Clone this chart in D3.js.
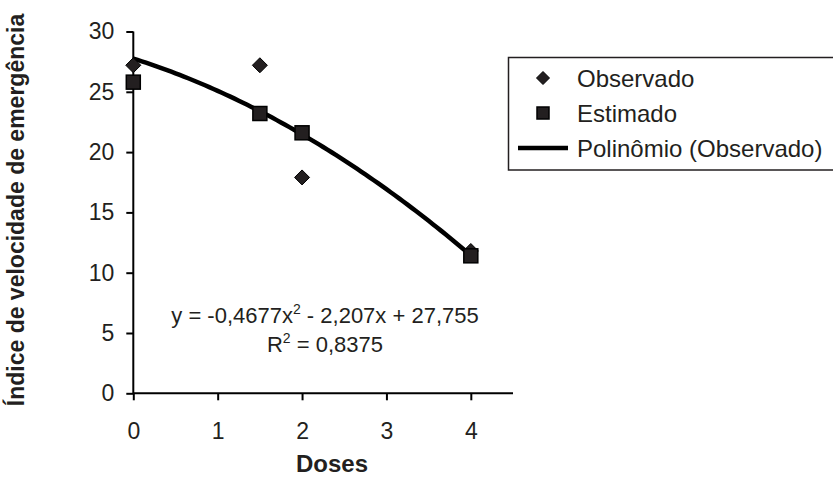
<!DOCTYPE html>
<html>
<head>
<meta charset="utf-8">
<script src="https://cdn.jsdelivr.net/npm/d3@7"></script>
<style>
  html, body { margin: 0; padding: 0; background: #fff; }
  svg { display: block; font-family: "Liberation Sans", Arial, sans-serif; }
  .tick text { font-size: 23px; }
</style>
</head>
<body>
<svg id="chart" width="833" height="478"></svg>
<script>
// ---- data ----
const doses = [0, 1.5, 2, 4];
const observado = [27.2, 27.2, 17.9, 11.8];
const estimado = [25.8, 23.2, 21.6, 11.4];
const polyCoef = [27.755, -2.207, -0.4677]; // c0 + c1 x + c2 x^2
const xTicks = [0, 1, 2, 3, 4];
const yTicks = [0, 5, 10, 15, 20, 25, 30];
const legendLabels = ["Observado", "Estimado", "Polinômio (Observado)"];
const xTitle = "Doses";
const yTitle = "Índice de velocidade de emergência";

const ink = "#231f20";
const svg = d3.select("#chart");

const x = d3.scaleLinear().domain([0, 4.5]).range([133.3, 513]);
const y = d3.scaleLinear().domain([0, 30]).range([393.3, 31.5]);

// axes
const xAxis = d3.axisBottom(x).tickValues(xTicks).tickSize(7).tickPadding(12).tickFormat(d3.format("d"));
const yAxis = d3.axisLeft(y).tickValues(yTicks).tickSize(7).tickPadding(12).tickFormat(d3.format("d"));

const gx = svg.append("g").attr("transform", `translate(0,${y(0)})`).call(xAxis);
const gy = svg.append("g").attr("transform", `translate(${x(0)},0)`).call(yAxis);
[gx, gy].forEach(g => {
  g.attr("font-size", 23).attr("font-family", "'Liberation Sans', Arial, sans-serif");
  g.select(".domain").attr("stroke", "#000").attr("stroke-width", 2);
  g.selectAll(".tick line").attr("stroke", "#000").attr("stroke-width", 2);
  g.selectAll(".tick text").attr("fill", ink).attr("font-size", 23);
});
gx.select(".domain").attr("d", `M${x(0)},0H${x(4.5)}`);
gy.select(".domain").attr("d", `M0,${y(30)}V${y(0)}`);
gx.selectAll(".tick text").attr("dy", "0.71em").attr("y", 29);

// axis titles
svg.append("text").attr("x", 332).attr("y", 472).attr("text-anchor", "middle")
  .attr("fill", ink).style("font-size", "24px").style("font-weight", "bold").text(xTitle);
svg.append("text").attr("transform", "translate(24,210) rotate(-90)").attr("text-anchor", "middle")
  .attr("fill", ink).style("font-size", "23px").style("font-weight", "bold").text(yTitle);

// trend curve
const curveX = d3.range(0, 4.0001, 0.05);
const poly = v => polyCoef[0] + polyCoef[1] * v + polyCoef[2] * v * v;
svg.append("path")
  .datum(curveX)
  .attr("d", d3.line().x(d => x(d)).y(d => y(poly(d))).curve(d3.curveLinear))
  .attr("fill", "none").attr("stroke", "#000").attr("stroke-width", 4.5);

// markers
const diamond = r => `M0,${-r}L${r},0L0,${r}L${-r},0Z`;
const obsData = doses.map((d, i) => ({x: d, y: observado[i]}));
const estData = doses.map((d, i) => ({x: d, y: estimado[i]}));

svg.append("g").selectAll("path").data(obsData).join("path")
  .attr("d", diamond(7.5))
  .attr("transform", d => `translate(${x(d.x)},${y(d.y)})`)
  .attr("fill", ink).attr("stroke", "#000").attr("stroke-width", 1);

svg.append("g").selectAll("rect").data(estData).join("rect")
  .attr("x", d => x(d.x) - 7).attr("y", d => y(d.y) - 7)
  .attr("width", 14).attr("height", 14)
  .attr("fill", ink).attr("stroke", "#000").attr("stroke-width", 1.5);

// equation
const eq = svg.append("text").attr("x", 325).attr("y", 322.5).attr("text-anchor", "middle")
  .attr("fill", ink).style("font-size", "22px");
eq.append("tspan").text("y = -0,4677x");
eq.append("tspan").attr("dy", -9).style("font-size", "14px").text("2");
eq.append("tspan").attr("dy", 9).text(" - 2,207x + 27,755");

const r2 = svg.append("text").attr("x", 325).attr("y", 351.5).attr("text-anchor", "middle")
  .attr("fill", ink).style("font-size", "22px");
r2.append("tspan").text("R");
r2.append("tspan").attr("dy", -9).style("font-size", "14px").text("2");
r2.append("tspan").attr("dy", 9).text(" = 0,8375");

// legend
const lg = svg.append("g");
lg.append("rect").attr("x", 508.5).attr("y", 57.5).attr("width", 340).attr("height", 112.5)
  .attr("fill", "#fff").attr("stroke", ink).attr("stroke-width", 1.5);
const rows = [78, 113, 148];
lg.append("path").attr("d", diamond(6.5)).attr("transform", `translate(543,${rows[0]})`)
  .attr("fill", ink).attr("stroke", "#000").attr("stroke-width", 1);
lg.append("rect").attr("x", 537).attr("y", rows[1] - 6).attr("width", 12).attr("height", 12)
  .attr("fill", ink).attr("stroke", "#000").attr("stroke-width", 1.5);
lg.append("line").attr("x1", 518).attr("x2", 568).attr("y1", rows[2]).attr("y2", rows[2])
  .attr("stroke", "#000").attr("stroke-width", 4.5);
lg.selectAll("text.lbl").data(legendLabels).join("text").attr("class", "lbl")
  .attr("x", 577).attr("y", (d, i) => rows[i]).attr("dy", "0.36em")
  .attr("fill", ink).style("font-size", "24px").text(d => d);
</script>
</body>
</html>
